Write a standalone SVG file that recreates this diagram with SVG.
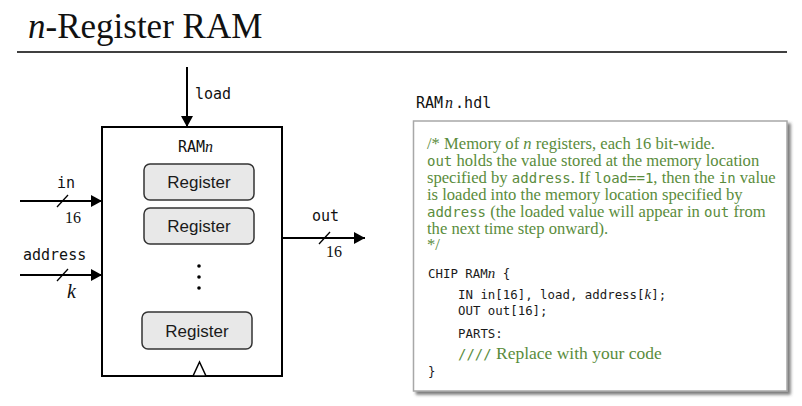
<svg xmlns="http://www.w3.org/2000/svg" width="802" height="406" viewBox="0 0 802 406">
  <style>
    .mono { font-family: "DejaVu Sans Mono", "Liberation Mono", monospace; fill: #111; }
    .serif { font-family: "Liberation Serif", "Times New Roman", serif; fill: #111; }
    .ital { font-family: "Liberation Serif", "Times New Roman", serif; font-style: italic; }
    .reg rect { fill: #e8e8e8; stroke: #333; stroke-width: 1.5; }
    .reg text { font-family: "Liberation Sans", Arial, sans-serif; font-size: 17px; fill: #1a1a1a; text-anchor: middle; }
    .wire { stroke: #000; stroke-width: 2; fill: none; }
    .slash { stroke: #000; stroke-width: 1.3; }
    .green { font-family: "Liberation Serif", "Times New Roman", serif; font-size: 16.6px; fill: #5a8c3c; }
    .gmono { font-family: "DejaVu Sans Mono", "Liberation Mono", monospace; font-size: 14px; }
    .code { font-family: "DejaVu Sans Mono", "Liberation Mono", monospace; font-size: 12.4px; fill: #1a1a1a; }
  </style>
  <defs>
    <marker id="arrow" viewBox="0 0 11 12" refX="11" refY="6" markerWidth="11" markerHeight="12" markerUnits="userSpaceOnUse" orient="auto">
      <path d="M0,0 L11,6 L0,12 z" fill="#000"/>
    </marker>
    <filter id="shadow" x="-5%" y="-5%" width="115%" height="115%">
      <feDropShadow dx="3" dy="3" stdDeviation="1.5" flood-color="#444" flood-opacity="0.7"/>
    </filter>
  </defs>
  <rect width="802" height="406" fill="#fff"/>

  <g id="title">
    <text x="28" y="38" class="serif" font-size="35"><tspan font-style="italic">n</tspan>-Register RAM</text>
    <line x1="17" y1="52" x2="787" y2="52" stroke="#000" stroke-width="1.5"/>
  </g>

  <g id="ram">
    <rect x="102" y="127" width="180" height="249" fill="#fff" stroke="#000" stroke-width="2"/>
    <text x="178" y="152" class="mono" font-size="15">RAM<tspan class="ital" font-size="16">n</tspan></text>
    <polygon points="193,376 199.5,362 206,376" fill="#fff" stroke="#000" stroke-width="1.5"/>
    <circle cx="199" cy="266" r="1.8" fill="#000"/>
    <circle cx="199" cy="277" r="1.8" fill="#000"/>
    <circle cx="199" cy="288" r="1.8" fill="#000"/>
  </g>

  <g id="register1" class="reg">
    <rect x="144" y="164" width="110" height="36" rx="6"/>
    <text x="199" y="188">Register</text>
  </g>
  <g id="register2" class="reg">
    <rect x="144" y="208" width="110" height="36" rx="6"/>
    <text x="199" y="232">Register</text>
  </g>
  <g id="register3" class="reg">
    <rect x="142" y="312" width="110" height="37" rx="6"/>
    <text x="197" y="337">Register</text>
  </g>

  <g id="connectors">
    <line class="wire" x1="187" y1="67" x2="187" y2="127" marker-end="url(#arrow)"/>
    <line class="wire" x1="20" y1="201" x2="102" y2="201" marker-end="url(#arrow)"/>
    <line class="slash" x1="57" y1="207" x2="68" y2="195"/>
    <line class="wire" x1="20" y1="275" x2="102" y2="275" marker-end="url(#arrow)"/>
    <line class="slash" x1="57" y1="281" x2="68" y2="269"/>
    <line class="wire" x1="282" y1="238" x2="365" y2="238" marker-end="url(#arrow)"/>
    <line class="slash" x1="319" y1="244" x2="330" y2="232"/>
  </g>

  <g id="labels">
    <text x="195" y="99" class="mono" font-size="15">load</text>
    <text x="57" y="188" class="mono" font-size="15">in</text>
    <text x="65" y="223" class="serif" font-size="16">16</text>
    <text x="23" y="260" class="mono" font-size="15">address</text>
    <text x="67" y="298" class="ital" font-size="20" fill="#111">k</text>
    <text x="312" y="221" class="mono" font-size="15">out</text>
    <text x="326" y="257" class="serif" font-size="16">16</text>
  </g>

  <g id="hdl">
    <text x="416" y="108" class="mono" font-size="15">RAM<tspan class="ital" font-size="16" dx="2">n</tspan><tspan dx="2">.hdl</tspan></text>
    <rect x="413.5" y="121" width="373.5" height="270" fill="#fff" stroke="#a8a8a8" stroke-width="1.5" filter="url(#shadow)"/>
    <text class="green" x="427" y="149">/* Memory of <tspan font-style="italic">n</tspan> registers, each 16 bit-wide.</text>
    <text class="green" x="427" y="166"><tspan class="gmono">out</tspan> holds the value stored at the memory location</text>
    <text class="green" x="427" y="183">specified by <tspan class="gmono">address</tspan>. If <tspan class="gmono">load==1</tspan>, then the <tspan class="gmono">in</tspan> value</text>
    <text class="green" x="427" y="200">is loaded into the memory location specified by</text>
    <text class="green" x="427" y="217"><tspan class="gmono">address</tspan> (the loaded value will appear in <tspan class="gmono">out</tspan> from</text>
    <text class="green" x="427" y="234">the next time step onward).</text>
    <text class="green" x="427" y="250">*/</text>
    <text class="code" x="428" y="278">CHIP RAM<tspan class="ital" font-size="15">n</tspan> {</text>
    <text class="code" x="458" y="299">IN in[16], load, address[<tspan class="ital" font-size="15">k</tspan>];</text>
    <text class="code" x="458" y="315">OUT out[16];</text>
    <text class="code" x="458" y="338">PARTS:</text>
    <text class="green" x="458" y="359"><tspan class="gmono" font-size="14">////</tspan><tspan x="496" font-size="17.5">Replace with your code</tspan></text>
    <text class="code" x="428" y="376">}</text>
  </g>
</svg>
